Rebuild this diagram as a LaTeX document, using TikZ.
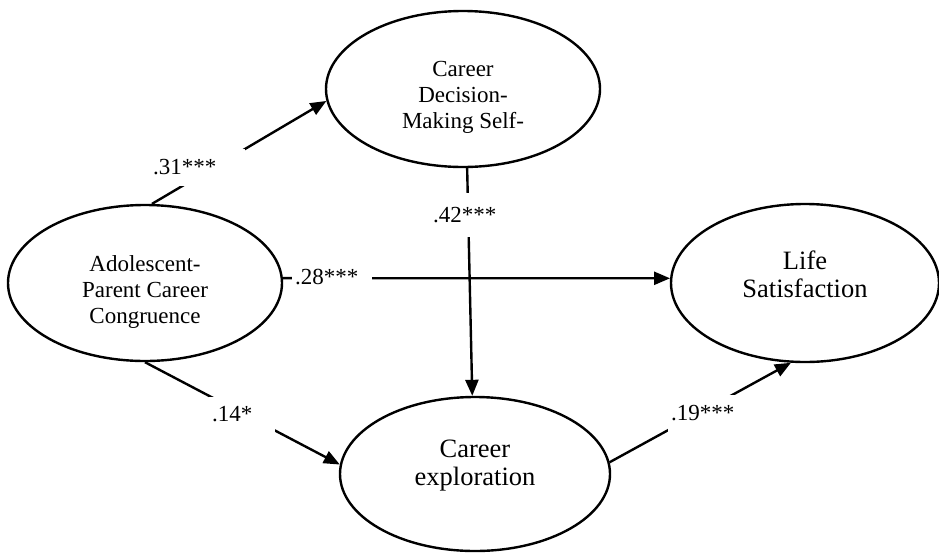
\documentclass[tikz,border=0pt]{standalone}
\usepackage{fontspec}
\setmainfont{Liberation Serif}
\usetikzlibrary{shapes.geometric, arrows.meta}

\begin{document}
\begin{tikzpicture}[
            x=1pt, y=-1pt,
            latent/.style={ellipse, draw, line width=2.4pt, minimum width=274pt, minimum height=156pt, inner sep=0pt},
            effect/.style={line width=2.4pt, -{Triangle[length=16pt, width=13pt]}},
            coef/.style={fill=white, inner xsep=3pt, inner ysep=0pt, align=left, font=\fontsize{23}{26}\selectfont},
            small/.style={font=\fontsize{23}{26}\selectfont, align=center},
            big/.style={font=\fontsize{26.5}{28}\selectfont, align=center},
        ]
            \useasboundingbox (0,0) rectangle (939,552);

            % latent variables
            \node[latent, label={[small, yshift=-8pt]center:{Career\\Decision-\\Making Self-}}] (cdse) at (463,89) {};
            \node[latent, label={[small, yshift=-9pt]center:{Adolescent-\\Parent Career\\Congruence}}] (adol) at (145,283) {};
            \node[latent, minimum width=268pt, minimum height=158pt, label={[big, yshift=9pt]center:{Life\\Satisfaction}}] (lifs) at (805,283) {};
            \node[latent, minimum width=270pt, minimum height=154pt, label={[big, yshift=8pt]center:{Career\\exploration}}] (cexp) at (475,474) {};

            % paths
            \draw[effect] (adol.85) -- (cdse.185);
            \draw[effect] (adol.2) -- (lifs.178);
            \draw[effect] (adol.south) -- (cexp.176);
            \draw[effect] (cdse.-87) -- (cexp.92);
            \draw[effect] (cexp.5) -- (lifs.260);

            % coefficients
            \node[coef, text width=89pt, minimum height=37pt] (b1) at (197.5,167.5) {.31***};
            \node[coef, text width=64pt, minimum height=44pt] (b2) at (465,215) {.42***};
            \node[coef, text width=74pt, minimum height=30pt] (b3) at (332,277) {.28***};
            \node[coef, text width=60pt, minimum height=35pt] (b4) at (242,414.5) {.14*};
            \node[coef, text width=62pt, minimum height=37pt] (b5) at (702,413.5) {.19***};
        \end{tikzpicture}
\end{document}
